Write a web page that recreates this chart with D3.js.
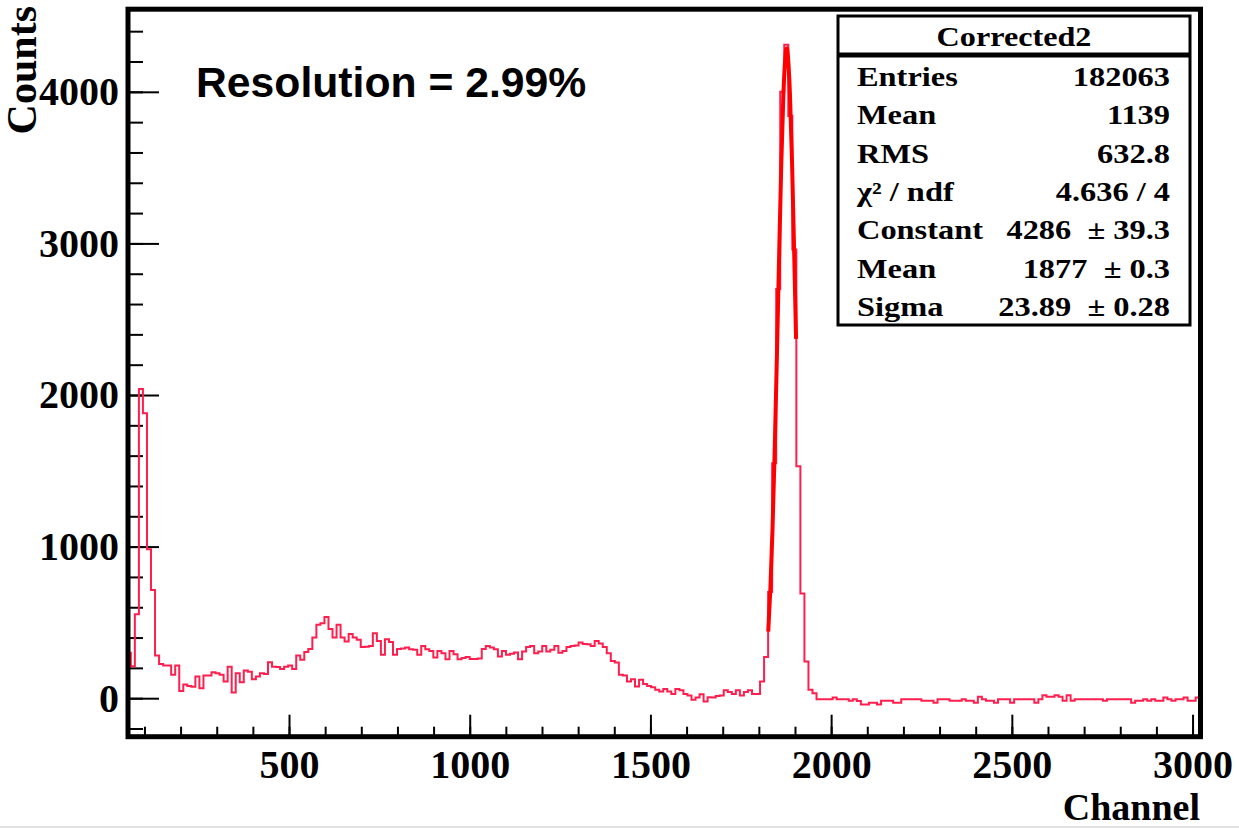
<!DOCTYPE html>
<html>
<head>
<meta charset="utf-8">
<script src="https://cdn.jsdelivr.net/npm/d3@7"></script>
<style>
	body { margin: 0; background: #fff; }
	svg { display: block; }
	text { font-family: 'Liberation Serif', 'Times New Roman', serif; font-weight: bold; fill: #000; }
	.resolution { font-family: 'Liberation Sans', Arial, sans-serif; }
	.pre { white-space: pre; }
</style>
</head>
<body>
<script>

// Histogram Corrected2: counts per bin, first bin begins at channel 51.2
const binStart = 51.2,
	binWidth = 11.16,
	counts = [
		300, 210, 554, 2040, 1880, 983, 714, 281, 226, 215,
		215, 154, 215, 48, 90, 80, 75, 143, 66, 149,
		149, 171, 165, 154, 110, 208, 37, 165, 105, 182,
		175, 125, 143, 165, 160, 237, 208, 205, 193, 208,
		215, 193, 281, 253, 304, 325, 400, 484, 495, 535,
		457, 400, 484, 400, 374, 424, 400, 385, 337, 340,
		345, 429, 378, 286, 389, 370, 286, 325, 328, 334,
		323, 320, 286, 345, 323, 312, 268, 312, 297, 257,
		312, 290, 257, 265, 271, 259, 259, 262, 325, 345,
		334, 323, 275, 312, 286, 293, 301, 257, 308, 337,
		345, 297, 308, 345, 308, 319, 345, 299, 312, 337,
		345, 348, 367, 358, 356, 345, 378, 361, 337, 297,
		246, 235, 154, 150, 110, 125, 77, 121, 94, 81,
		73, 55, 44, 61, 44, 28, 61, 52, 28, 17,
		-11, 4, 26, -22, 7, 5, 15, 17, 52, 41,
		28, 52, 17, 41, 52, 28, 28, 110, 271, 700,
		1550, 2700, 4000, 4310, 3840, 2960, 1530, 690, 242, 55,
		33, -7, -7, -7, -7, 4, -7, -7, -7, -17,
		-7, -19, -41, -41, -30, -30, -41, -17, -17, -17,
		-30, -30, -7, -7, -7, -7, -7, -17, -17, -17,
		-30, -7, -7, -7, -17, -17, -17, -7, -17, -17,
		-30, 9, -7, -17, -17, -30, -7, -7, -7, -30,
		-7, -7, -7, -7, -7, -30, -7, 20, 9, 9,
		20, 9, -17, 20, -17, -7, -7, -7, -7, -7,
		-7, -7, -17, -7, -7, -7, -7, -7, -7, -30,
		-17, -17, -7, -17, -7, -17, -17, 4, -7, -17,
		-7, -7, 4, -17, -17, 4, -7
	],

	// Gauss fit zoals die in het plaatje staat (gelezen punten)
	fitChannels = [ 1826, 1832, 1838, 1844, 1850, 1856, 1862, 1868, 1874, 1877, 1880, 1886, 1892, 1898, 1903 ],
	fitCounts = [ 440, 730, 1130, 1650, 2260, 2910, 3520, 3990, 4250, 4286, 4250, 3990, 3520, 2910, 2370 ],

	xTicks = [ 500, 1000, 1500, 2000, 2500, 3000 ],
	yTicks = [ 0, 1000, 2000, 3000, 4000 ],

	statTitle = 'Corrected2',
	statNames = [ 'Entries', 'Mean', 'RMS', 'χ² / ndf', 'Constant', 'Mean', 'Sigma' ],
	statValues = [ '182063', '1139', '632.8', '4.636 / 4', '4286  ± 39.3', '1877  ± 0.3', '23.89  ± 0.28' ],

	resolutionText = 'Resolution = 2.99%'

const width = 1239,
	height = 828,
	frame = { left: 128, right: 1200.5, top: 9.2, bottom: 736.7 },

	x = d3.scaleLinear()
		.domain( [ 54.5, 3022 ] )
		.range( [ frame.left, frame.right ] ),

	y = d3.scaleLinear()
		.domain( [ -254, 4545 ] )
		.range( [ frame.bottom, frame.top ] ),

	svg = d3.select( 'body' )
		.append( 'svg' )
		.attr( 'width', width )
		.attr( 'height', height )

// grijs randje onderaan
svg.append( 'rect' )
	.attr( 'x', 0 )
	.attr( 'y', 826 )
	.attr( 'width', width )
	.attr( 'height', 2 )
	.attr( 'fill', '#e2e2e2' )

svg.append( 'clipPath' )
	.attr( 'id', 'plot-clip' )
	.append( 'rect' )
	.attr( 'x', frame.left )
	.attr( 'y', frame.top )
	.attr( 'width', frame.right - frame.left )
	.attr( 'height', frame.bottom - frame.top )

// Minor ticks eerst, daarna de grote
const xAxisG = svg.append( 'g' )
	.attr( 'transform', `translate( 0, ${ frame.bottom } )` )

xAxisG.append( 'g' )
	.call( d3.axisBottom( x )
		.tickValues( d3.range( 100, 3001, 100 ) )
		.tickSize( -10 )
		.tickFormat( '' ) )

xAxisG.append( 'g' )
	.call( d3.axisBottom( x )
		.tickValues( xTicks )
		.tickSize( -22 )
		.tickPadding( 13 )
		.tickFormat( d3.format( 'd' ) ) )

const yAxisG = svg.append( 'g' )
	.attr( 'transform', `translate( ${ frame.left }, 0 )` )

yAxisG.append( 'g' )
	.call( d3.axisLeft( y )
		.tickValues( d3.range( -200, 4401, 200 ) )
		.tickSize( -15 )
		.tickFormat( '' ) )

yAxisG.append( 'g' )
	.call( d3.axisLeft( y )
		.tickValues( yTicks )
		.tickSize( -31 )
		.tickPadding( 9 )
		.tickFormat( d3.format( 'd' ) ) )

svg.selectAll( '.domain' ).remove()

svg.selectAll( '.tick line' )
	.attr( 'stroke', '#000' )
	.attr( 'stroke-width', 2 )

svg.selectAll( '.tick text' )
	.style( 'font-size', '40px' )

// Histogram als trap-lijn, begint onderaan het frame
const bins = counts.map( ( c, i ) => [ binStart + i * binWidth, c ] ),
	histPoints = [ [ binStart, y.domain()[ 0 ] ] ]
		.concat( bins )
		.concat( [ [ binStart + counts.length * binWidth, counts[ counts.length - 1 ] ] ] )

const histLine = d3.line()
	.x( d => x( d[ 0 ] ) )
	.y( d => y( d[ 1 ] ) )
	.curve( d3.curveStepAfter )

svg.append( 'path' )
	.attr( 'clip-path', 'url(#plot-clip)' )
	.attr( 'd', histLine( histPoints ) )
	.attr( 'fill', 'none' )
	.attr( 'stroke', '#ff1f4e' )
	.attr( 'stroke-width', 2 )

// fit
const fitLine = d3.line()
	.x( ( d, i ) => x( fitChannels[ i ] ) )
	.y( d => y( d ) )
	.curve( d3.curveNatural )

svg.append( 'path' )
	.attr( 'd', fitLine( fitCounts ) )
	.attr( 'fill', 'none' )
	.attr( 'stroke', '#ff0000' )
	.attr( 'stroke-width', 4 )

// Frame
svg.append( 'rect' )
	.attr( 'x', frame.left )
	.attr( 'y', frame.top )
	.attr( 'width', frame.right - frame.left )
	.attr( 'height', frame.bottom - frame.top )
	.attr( 'fill', 'none' )
	.attr( 'stroke', '#000' )
	.attr( 'stroke-width', 5 )

// As titels
svg.append( 'text' )
	.attr( 'transform', `translate( 36, 6 ) rotate( -90 )` )
	.attr( 'text-anchor', 'end' )
	.style( 'font-size', '42px' )
	.text( 'Counts' )

svg.append( 'text' )
	.attr( 'x', 1200 )
	.attr( 'y', 820 )
	.attr( 'text-anchor', 'end' )
	.style( 'font-size', '38px' )
	.text( 'Channel' )

svg.append( 'text' )
	.classed( 'resolution', true )
	.attr( 'x', 196 )
	.attr( 'y', 97 )
	.style( 'font-size', '42.7px' )
	.text( resolutionText )

// Stats box
const box = { left: 838, right: 1190, top: 16, bottom: 325, titleBottom: 55 },
	stats = svg.append( 'g' ).classed( 'stats', true )

stats.append( 'rect' )
	.attr( 'x', box.left )
	.attr( 'y', box.top )
	.attr( 'width', box.right - box.left )
	.attr( 'height', box.bottom - box.top )
	.attr( 'fill', '#fff' )
	.attr( 'stroke', '#000' )
	.attr( 'stroke-width', 3 )

stats.append( 'line' )
	.attr( 'x1', box.left )
	.attr( 'x2', box.right )
	.attr( 'y1', box.titleBottom )
	.attr( 'y2', box.titleBottom )
	.attr( 'stroke', '#000' )
	.attr( 'stroke-width', 5 )

stats.append( 'text' )
	.attr( 'transform', `translate( ${ ( box.left + box.right ) / 2 }, 46 ) scale( 1.15, 1 )` )
	.attr( 'text-anchor', 'middle' )
	.style( 'font-size', '28px' )
	.text( statTitle )

const rowY = i => 86 + i * 38.3

stats.selectAll( '.stat-name' )
	.data( statNames )
	.enter()
	.append( 'text' )
	.classed( 'stat-name', true )
	.attr( 'transform', ( d, i ) => `translate( 857, ${ rowY( i ) } ) scale( 1.2, 1 )` )
	.style( 'font-size', '27px' )
	.text( d => d )

stats.selectAll( '.stat-value' )
	.data( statValues )
	.enter()
	.append( 'text' )
	.attr( 'class', 'stat-value pre' )
	.attr( 'transform', ( d, i ) => `translate( 1170, ${ rowY( i ) } ) scale( 1.2, 1 )` )
	.attr( 'text-anchor', 'end' )
	.style( 'font-size', '27px' )
	.text( d => d )

</script>
</body>
</html>
